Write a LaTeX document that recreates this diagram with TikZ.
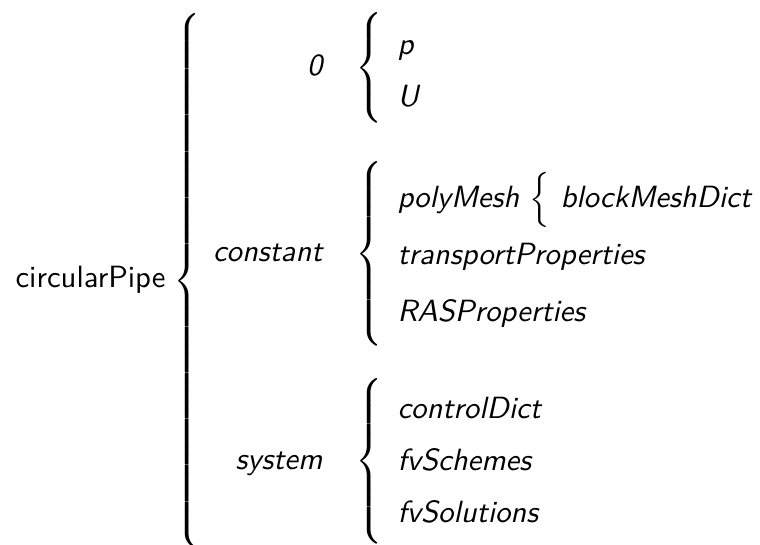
\documentclass[tikz,border=0pt]{standalone}
\tikzset{
every picture/.style={
line width=1pt
}}
\usepackage{tikz}
% brace of a given height, centred on the math axis
\newcommand{\dirbrace}[1]{$\delimiterfactor=1000 \delimitershortfall=0pt
  \left\{\vcenter{\hbox{\rule{0pt}{#1}}}\right.$}

\begin{document}
\begin{tikzpicture}[x=0.3257pt, y=-0.3257pt,
  root/.style={font=\sffamily, inner sep=0pt},
  dir/.style={font=\sffamily\slshape, inner sep=0pt},
  brc/.style={inner sep=0pt, anchor=west}]
\useasboundingbox (0,0) rectangle (760,545);

% case folder
\node[root, anchor=base west] (pipe) at (14,288) {circularPipe};
\node[brc] (b-pipe) at (172,281) {\dirbrace{173pt}};

% sub folders
\node[dir, anchor=base east] (zero) at (324,76) {0};
\node[dir, anchor=base east] (constant) at (324,262) {constant};
\node[dir, anchor=base east] (system) at (324,470) {system};

\node[brc] (b-zero) at (354,68) {\dirbrace{36pt}};
\node[brc] (b-constant) at (354,254) {\dirbrace{55pt}};
\node[brc] (b-system) at (354,461) {\dirbrace{53pt}};

% files
\foreach \name/\y in {p/55, U/107}{
  \node[dir, anchor=base west] (f-\name) at (396,\y) {\name};
}
\foreach \name/\y in {polyMesh/208, transportProperties/265, RASProperties/322}{
  \node[dir, anchor=base west] (f-\name) at (396,\y) {\name};
}
\foreach \name/\y in {controlDict/419, fvSchemes/471, fvSolutions/523}{
  \node[dir, anchor=base west] (f-\name) at (396,\y) {\name};
}

% polyMesh
\node[brc] (b-poly) at (528,200) {\dirbrace{17pt}};
\node[dir, anchor=base west] (f-blockMeshDict) at (559,208) {blockMeshDict};
\end{tikzpicture}
\end{document}
